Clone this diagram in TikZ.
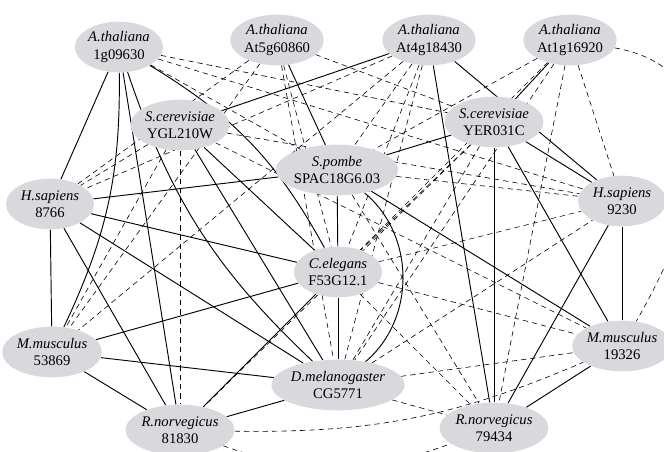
\documentclass[tikz,border=0pt]{standalone}
\usepackage{fontspec}
\setmainfont{Liberation Serif}
\usetikzlibrary{shapes.geometric, backgrounds}

\definecolor{nodegray}{RGB}{216,216,221}

\tikzset{
	gene/.style={ellipse, fill=nodegray, minimum width=66pt, minimum height=38pt,
		inner sep=0pt, align=center, font=\fontsize{11}{13}\selectfont},
	hit/.style={line width=0.7pt},
	weak/.style={line width=0.45pt, dash pattern=on 4pt off 3pt}
}

\begin{document}
\begin{tikzpicture}[x=0.75pt, y=-0.75pt]
	\useasboundingbox (0,0) rectangle (664,452);

	% proteins
	\node [gene] (ath1) at (119,47) {\textit{A.thaliana}\\1g09630};
	\node [gene] (ath2) at (277,40) {\textit{A.thaliana}\\At5g60860};
	\node [gene] (ath3) at (429,40) {\textit{A.thaliana}\\At4g18430};
	\node [gene] (ath4) at (570,40) {\textit{A.thaliana}\\At1g16920};
	\node [gene] (sce1) at (180,125) {\textit{S.cerevisiae}\\YGL210W};
	\node [gene] (sce2) at (494,122) {\textit{S.cerevisiae}\\YER031C};
	\node [gene] (spo) at (337,170) {\textit{S.pombe}\\SPAC18G6.03};
	\node [gene] (hsa1) at (50,204) {\textit{H.sapiens}\\8766};
	\node [gene] (hsa2) at (622,201) {\textit{H.sapiens}\\9230};
	\node [gene] (cel) at (338,272) {\textit{C.elegans}\\F53G12.1};
	\node [gene] (mmu1) at (52,352) {\textit{M.musculus}\\53869};
	\node [gene] (mmu2) at (622,346) {\textit{M.musculus}\\19326};
	\node [gene] (dme) at (338,385) {\textit{D.melanogaster}\\CG5771};
	\node [gene] (rno1) at (180,430) {\textit{R.norvegicus}\\81830};
	\node [gene] (rno2) at (494,428) {\textit{R.norvegicus}\\79434};

	\begin{scope}[on background layer]
	% dashed links
	\foreach \a/\b in {ath1/sce2, ath1/spo, ath1/hsa2,
			ath2/hsa1, ath2/mmu1, ath2/cel, ath2/dme, ath2/sce2,
			ath3/spo, ath3/cel, ath3/dme, ath3/hsa1, ath3/mmu1,
			ath4/hsa2, ath4/cel, ath4/dme, ath4/rno2, ath4/spo,
			sce1/hsa1, sce1/mmu1, sce1/hsa2, sce1/mmu2, sce1/rno1,
			sce2/cel, sce2/dme, sce2/rno1,
			spo/hsa2, spo/rno2,
			cel/hsa2, cel/mmu2, cel/rno2,
			dme/hsa2, dme/mmu2, dme/rno2}
		\draw [weak] (\a) -- (\b);

	\draw [weak] (ath4) to [out=-10, in=60, looseness=1.2] (mmu2);
	\draw [weak] (rno1) to [out=-20, in=-160] (rno2);
	\draw [weak] (rno1) to [bend right=12] (mmu2);

	% solid links
	\foreach \a/\b in {ath1/hsa1, ath1/rno1, sce1/ath3, sce1/dme, sce1/cel,
			hsa1/spo, hsa1/cel, ath2/spo, ath3/hsa2, ath4/sce2,
			sce2/spo, sce2/hsa2, sce2/rno2, sce2/mmu2, ath3/rno2,
			spo/mmu2, spo/cel, hsa2/mmu2,
			hsa1/mmu1, hsa1/rno1, hsa1/dme, mmu1/cel, mmu1/dme, mmu1/rno1,
			rno1/cel, rno1/dme, cel/dme, mmu2/rno2, rno2/hsa2}
		\draw [hit] (\a) -- (\b);

	\draw [hit] (ath1) to [bend left=13] (mmu1);
	\draw [hit] (ath1) to [bend right=14] (dme);
	\draw [hit] (ath1) to [bend left=15] (cel);
	\draw [hit] (spo) to [bend left=50] (dme);
	\end{scope}
\end{tikzpicture}
\end{document}
